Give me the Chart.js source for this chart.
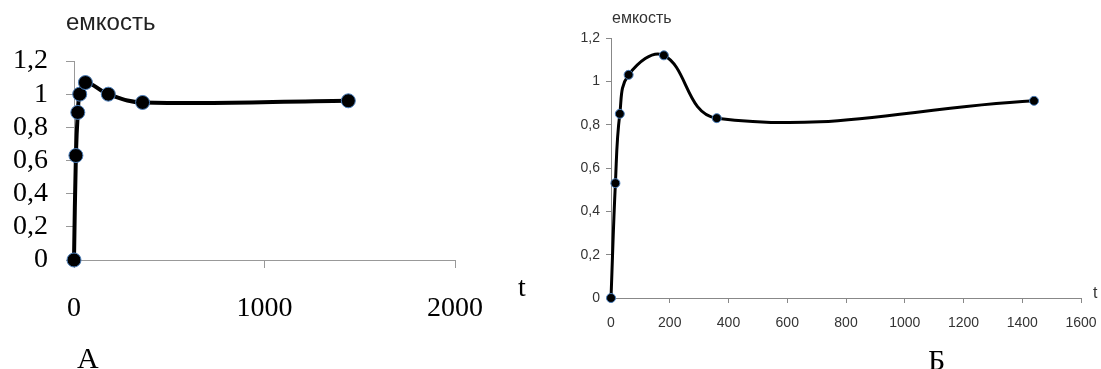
<!DOCTYPE html>
<html>
<head>
<meta charset="utf-8">
<script src="https://cdn.jsdelivr.net/npm/chart.js@4.4.1/dist/chart.umd.min.js"></script>
<style>
  html, body { margin: 0; padding: 0; background: #fff; }
  body { width: 1101px; height: 369px; position: relative; overflow: hidden; }
  .box { position: absolute; top: 0; height: 369px; }
  .lbl { position: absolute; white-space: nowrap; line-height: 1; }
</style>
</head>
<body>
<div class="box" style="left:0;width:540px"><canvas id="chartA" width="540" height="369"></canvas></div>
<div class="box" style="left:540px;width:561px"><canvas id="chartB" width="561" height="369"></canvas></div>

<div class="lbl" style="left:66px;top:8px;font:24px 'Liberation Sans',Arial,sans-serif;color:#222">емкость</div>
<div class="lbl" style="left:518px;top:271px;font:28px 'Liberation Serif','Times New Roman',serif">t</div>
<div class="lbl" style="left:77px;top:341px;font:30px 'Liberation Serif','Times New Roman',serif">А</div>

<div class="lbl" style="left:612px;top:9px;font:16px 'Liberation Sans',Arial,sans-serif;color:#333">емкость</div>
<div class="lbl" style="left:1093px;top:284px;font:16px 'Liberation Sans',Arial,sans-serif;color:#333">t</div>
<div class="lbl" style="left:928px;top:343px;font:30px 'Liberation Serif','Times New Roman',serif">Б</div>

<script>
// А
const timeA = [0, 10, 20, 30, 60, 180, 360, 1440];
const capA = [0, 0.63, 0.89, 1.0, 1.07, 1.0, 0.95, 0.96];
// Б
const timeB = [0, 15, 30, 60, 180, 360, 1440];
const capB = [0, 0.53, 0.85, 1.03, 1.12, 0.83, 0.91];

const comma = v => String(Math.round(v * 10) / 10).replace('.', ',');
const plain = v => String(v);

function makeChart(id, xs, ys, opt) {
  const pts = xs.map((x, i) => ({ x: x, y: ys[i] }));
  return new Chart(document.getElementById(id), {
    type: 'line',
    data: {
      datasets: [{
        data: pts,
        borderColor: '#000',
        borderWidth: opt.lineW,
        tension: 0.4,
        pointRadius: opt.r,
        pointBackgroundColor: '#000',
        pointBorderColor: '#4a7ebb',
        pointBorderWidth: 1,
        clip: false
      }]
    },
    options: {
      responsive: false,
      animation: false,
      layout: { padding: opt.pad },
      plugins: { legend: { display: false }, tooltip: { enabled: false } },
      scales: {
        x: {
          type: 'linear',
          min: 0, max: opt.xMax,
          // fixed axis box, padding handled by layout.padding
          afterFit: s => { s.height = opt.xH; s.paddingLeft = 0; s.paddingRight = 0; },
          grid: { drawOnChartArea: false, color: opt.axisColor, tickLength: opt.tickLen },
          border: { color: opt.axisColor },
          ticks: { stepSize: opt.xStep, color: opt.textColor, font: opt.font, padding: opt.xPad,
                   maxRotation: 0, autoSkip: false, callback: plain }
        },
        y: {
          min: 0, max: 1.2,
          afterFit: s => { s.width = opt.yW; },
          grid: { drawOnChartArea: false, color: opt.axisColor, tickLength: opt.tickLen },
          border: { color: opt.axisColor },
          ticks: { stepSize: 0.2, color: opt.textColor, font: opt.font, padding: opt.yPad,
                   autoSkip: false, callback: comma }
        }
      }
    }
  });
}

makeChart('chartA', timeA, capA, {
  xMax: 2000, xStep: 1000, lineW: 4, r: 7,
  pad: { left: 0, top: 61, right: 85, bottom: 0 },
  xH: 109, yW: 74, tickLen: 8, xPad: 24, yPad: 18,
  axisColor: '#999', textColor: '#000',
  font: { family: "'Liberation Serif','Times New Roman',serif", size: 28 }
});

makeChart('chartB', timeB, capB, {
  xMax: 1600, xStep: 200, lineW: 3, r: 4.5,
  pad: { left: 0, top: 38, right: 20, bottom: 0 },
  xH: 71, yW: 71, tickLen: 5, xPad: 12, yPad: 6,
  axisColor: '#888', textColor: '#333',
  font: { family: "'Liberation Sans',Arial,sans-serif", size: 14 }
});
</script>
</body>
</html>
